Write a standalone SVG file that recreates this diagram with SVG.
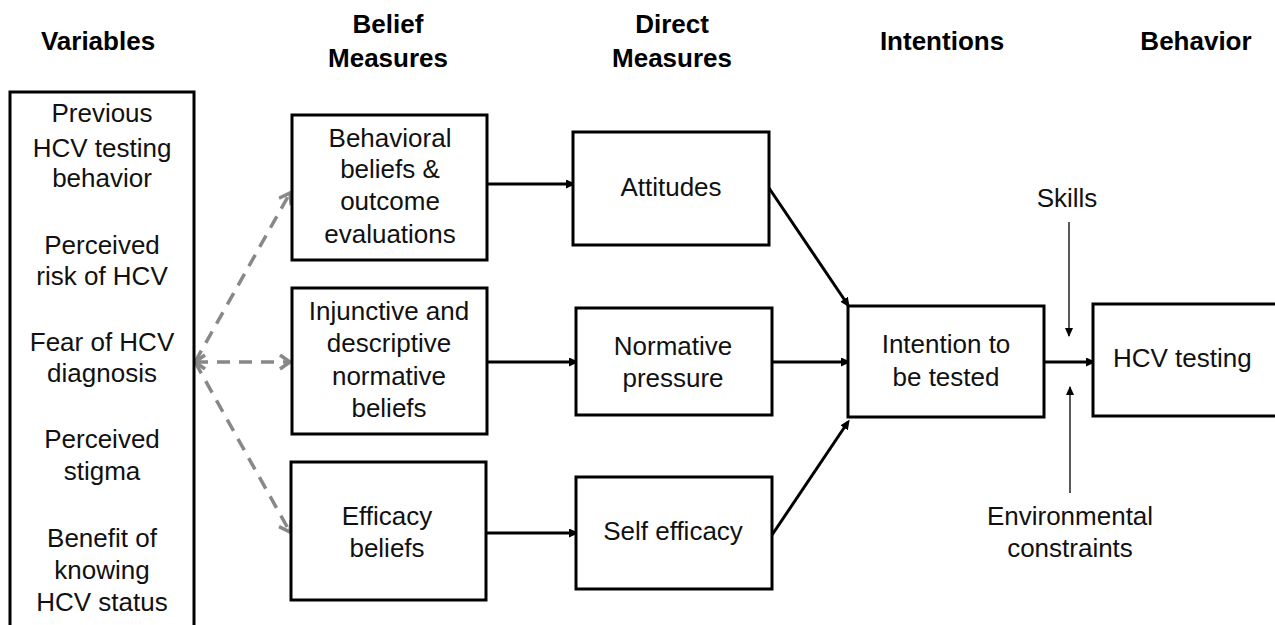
<svg xmlns="http://www.w3.org/2000/svg" width="1275" height="625" viewBox="0 0 1275 625">
<defs>
<style>
.box{fill:#fff;stroke:#000;stroke-width:3}
.t{font-family:"Liberation Sans",Arial,sans-serif;font-size:26px;fill:#111;text-anchor:middle}
.h{font-family:"Liberation Sans",Arial,sans-serif;font-size:26px;font-weight:bold;fill:#000;text-anchor:middle}
.c{stroke:#000;stroke-width:3;fill:none;marker-end:url(#ah)}
.thin{stroke:#000;stroke-width:1.3;fill:none;marker-end:url(#ahs)}
.d{stroke:#888;stroke-width:3.5;fill:none;stroke-dasharray:13 9;marker-end:url(#ag)}
</style>
<marker id="ah" markerUnits="userSpaceOnUse" markerWidth="12" markerHeight="10" refX="7" refY="4.5" orient="auto"><path d="M0,0 L10,4.5 L0,9 z" fill="#000"/></marker>
<marker id="ahs" markerUnits="userSpaceOnUse" markerWidth="12" markerHeight="10" refX="8" refY="4" orient="auto"><path d="M0,0 L9,4 L0,8 z" fill="#000"/></marker>
<marker id="ag" markerUnits="userSpaceOnUse" markerWidth="16" markerHeight="18" refX="12" refY="8" orient="auto-start-reverse"><path d="M2,1 L12,8 L2,15" fill="none" stroke="#888" stroke-width="3.5"/></marker>
</defs>
<rect width="1275" height="625" fill="#fff"/>
<g id="headers">
<text class="h" x="98" y="50">Variables</text>
<text class="h" x="388" y="33">Belief</text>
<text class="h" x="388" y="67">Measures</text>
<text class="h" x="672" y="33">Direct</text>
<text class="h" x="672" y="67">Measures</text>
<text class="h" x="942" y="50">Intentions</text>
<text class="h" x="1196" y="50">Behavior</text>
</g>
<g id="connectors">
<path class="d" d="M195,362 L290,193"/>
<path class="d" d="M195,362 L290,362" style="marker-start:url(#ag)"/>
<path class="d" d="M195,362 L290,532"/>
<path class="c" d="M487,184 L573,184"/>
<path class="c" d="M487,362 L576,362"/>
<path class="c" d="M486,533 L576,533"/>
<path class="c" d="M769,188 L848,305"/>
<path class="c" d="M772,362 L848,362"/>
<path class="c" d="M772,535 L848,422"/>
<path class="c" d="M1044,362 L1093,362"/>
<path class="thin" d="M1069,222 L1069,336"/>
<path class="thin" d="M1070,493 L1070,387"/>
</g>
<g id="variables">
<rect class="box" x="10" y="92" width="184" height="545"/>
<text class="t" x="102" y="122">Previous</text>
<text class="t" x="102" y="157">HCV testing</text>
<text class="t" x="102" y="187">behavior</text>
<text class="t" x="102" y="254">Perceived</text>
<text class="t" x="102" y="285">risk of HCV</text>
<text class="t" x="102" y="351">Fear of HCV</text>
<text class="t" x="102" y="382">diagnosis</text>
<text class="t" x="102" y="448">Perceived</text>
<text class="t" x="102" y="480">stigma</text>
<text class="t" x="102" y="547">Benefit of</text>
<text class="t" x="102" y="579">knowing</text>
<text class="t" x="102" y="611">HCV status</text>
</g>
<g id="behavioral-beliefs">
<rect class="box" x="292" y="115" width="195" height="145"/>
<text class="t" x="390" y="147">Behavioral</text>
<text class="t" x="390" y="178">beliefs &amp;</text>
<text class="t" x="390" y="210">outcome</text>
<text class="t" x="390" y="243">evaluations</text>
</g>
<g id="normative-beliefs">
<rect class="box" x="292" y="288" width="195" height="146"/>
<text class="t" x="389" y="320">Injunctive  and</text>
<text class="t" x="389" y="352">descriptive</text>
<text class="t" x="389" y="385">normative</text>
<text class="t" x="389" y="417">beliefs</text>
</g>
<g id="efficacy-beliefs">
<rect class="box" x="291" y="462" width="195" height="138"/>
<text class="t" x="387" y="525">Efficacy</text>
<text class="t" x="387" y="557">beliefs</text>
</g>
<g id="attitudes">
<rect class="box" x="573" y="132" width="196" height="113"/>
<text class="t" x="671" y="196">Attitudes</text>
</g>
<g id="normative-pressure">
<rect class="box" x="576" y="308" width="196" height="107"/>
<text class="t" x="673" y="355">Normative</text>
<text class="t" x="673" y="387">pressure</text>
</g>
<g id="self-efficacy">
<rect class="box" x="576" y="477" width="196" height="112"/>
<text class="t" x="673" y="540">Self efficacy</text>
</g>
<g id="intention">
<rect class="box" x="848" y="306" width="196" height="111"/>
<text class="t" x="946" y="353">Intention to</text>
<text class="t" x="946" y="386">be tested</text>
</g>
<g id="hcv-testing">
<rect class="box" x="1093" y="304" width="195" height="112"/>
<text class="t" x="1113" y="367" style="text-anchor:start">HCV testing</text>
</g>
<g id="skills">
<text class="t" x="1067" y="207">Skills</text>
</g>
<g id="environmental-constraints">
<text class="t" x="1070" y="525">Environmental</text>
<text class="t" x="1070" y="557">constraints</text>
</g>
</svg>
